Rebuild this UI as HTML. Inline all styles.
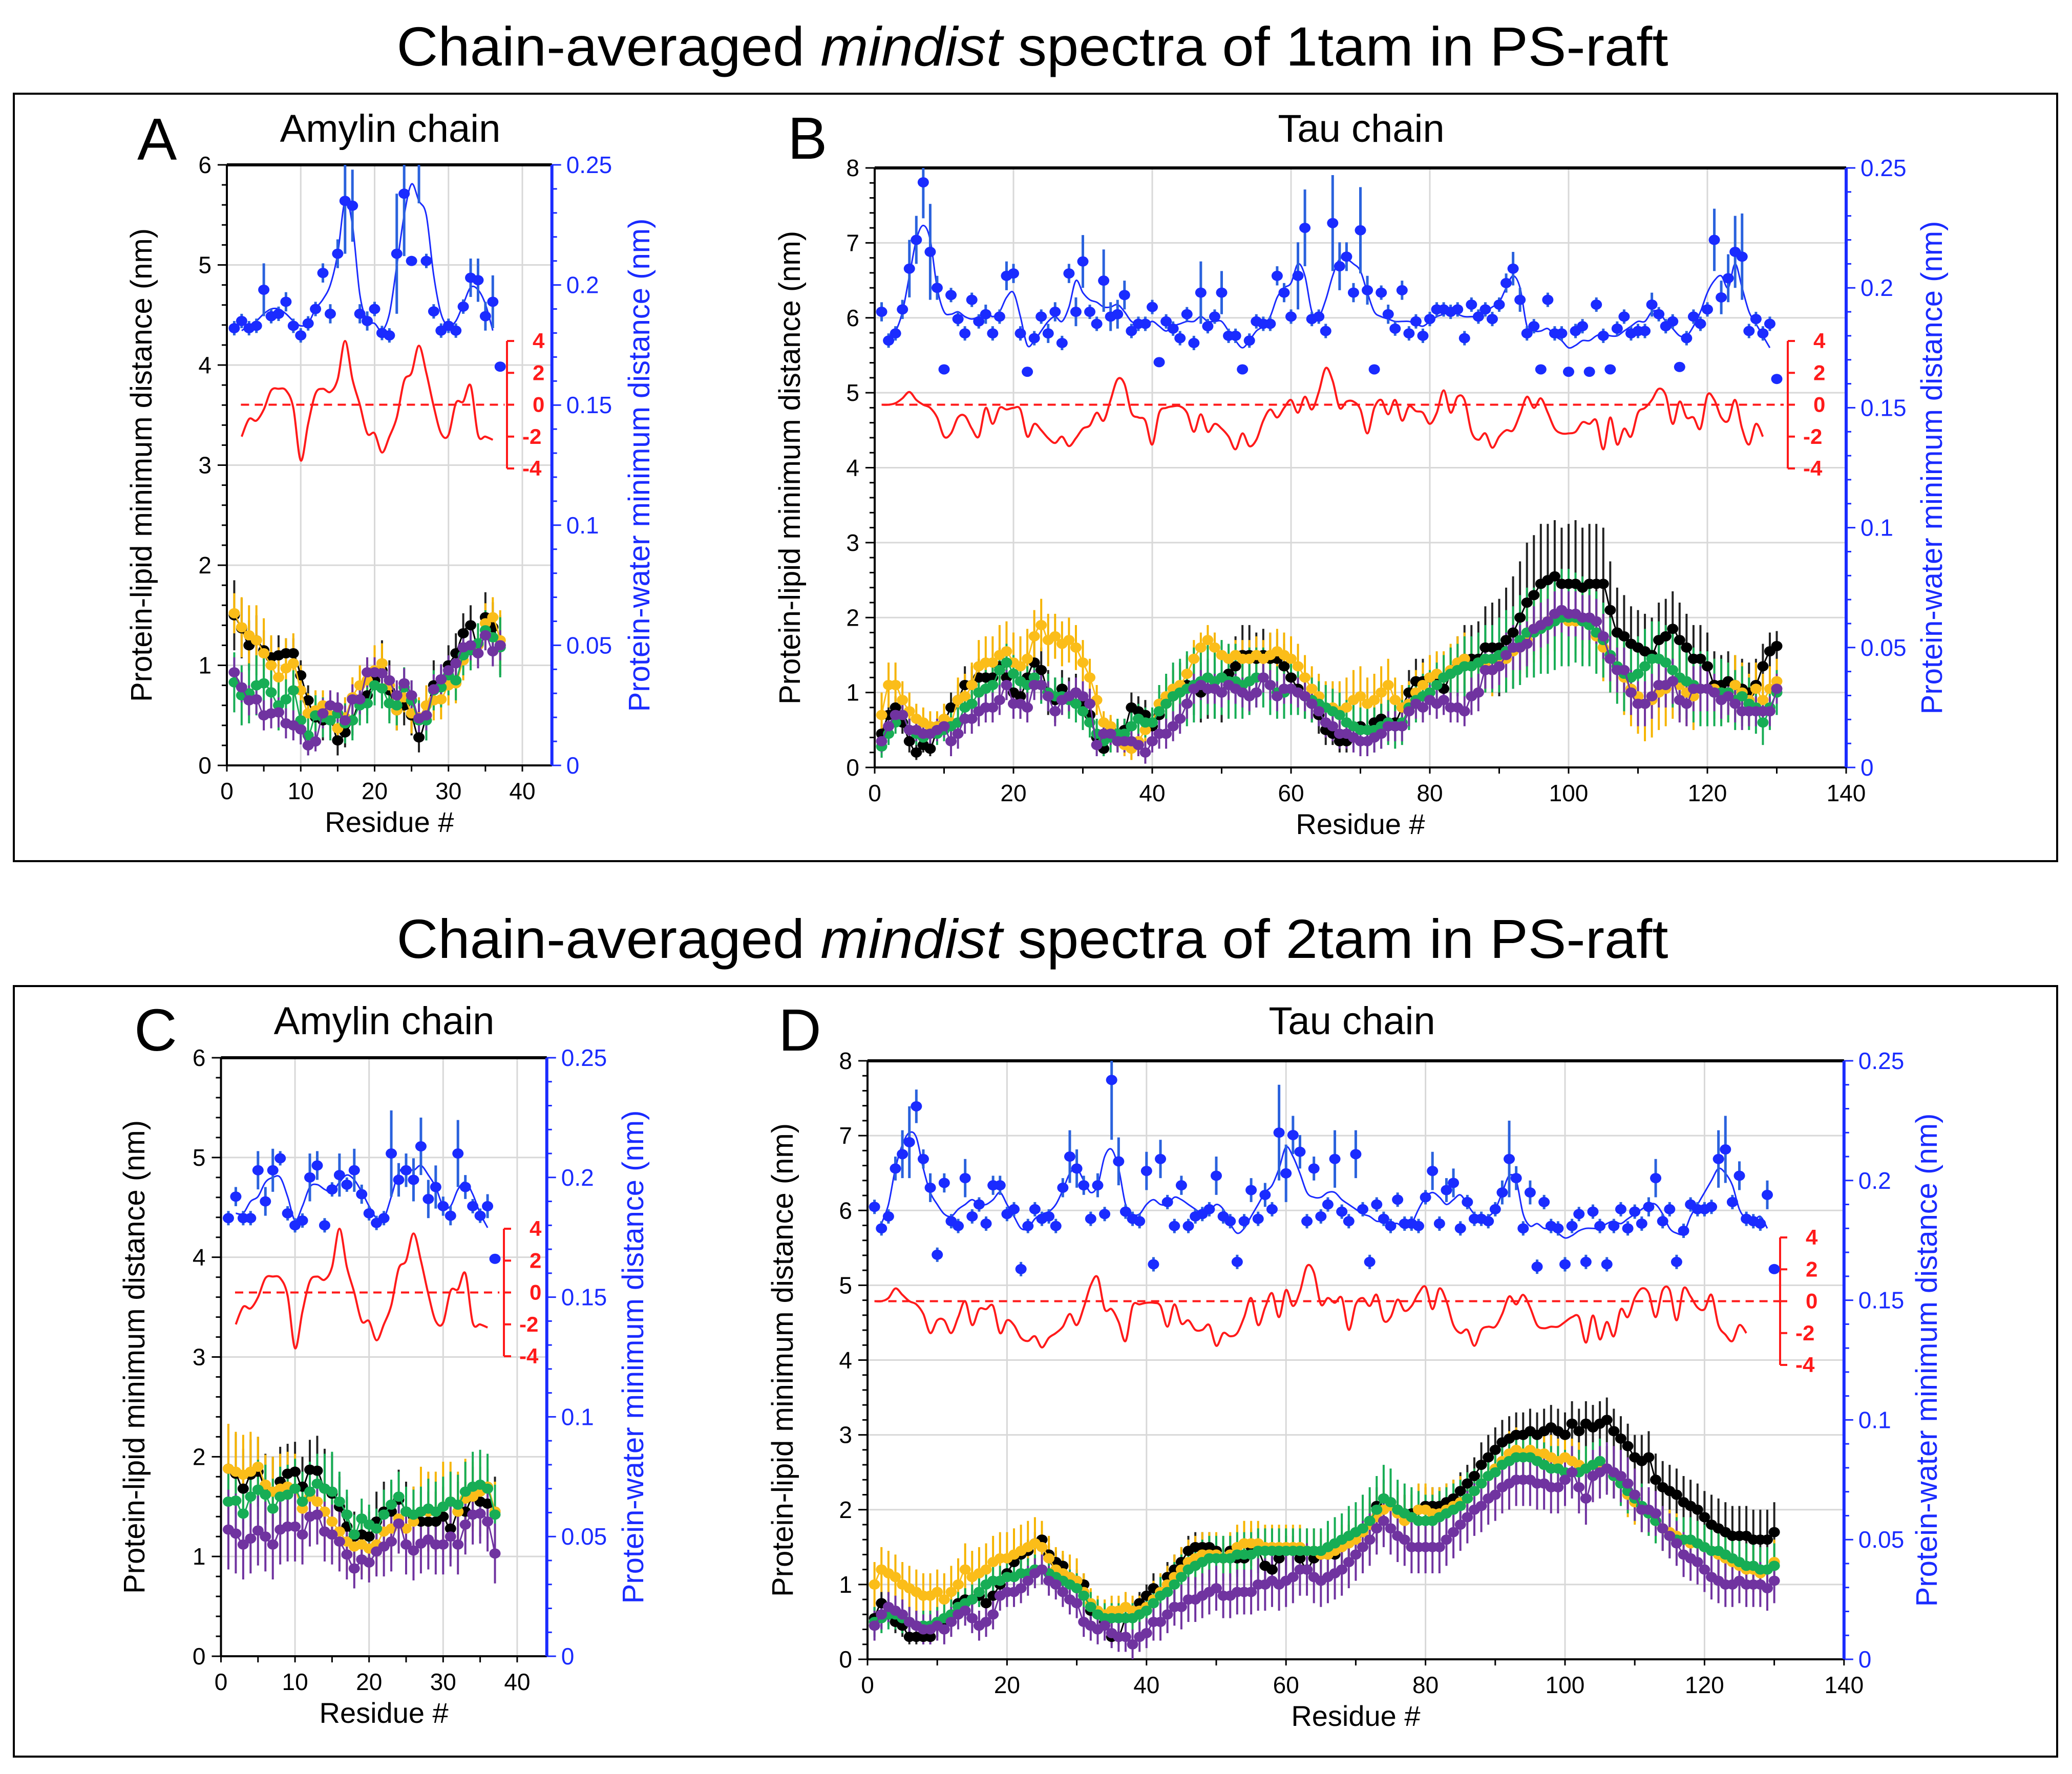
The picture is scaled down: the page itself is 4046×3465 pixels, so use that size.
<!DOCTYPE html>
<html><head><meta charset="utf-8"><style>
html,body{margin:0;padding:0;background:#fff;}
svg{display:block;}
text{font-family:"Liberation Sans",Arial,sans-serif;}
</style></head>
<body>
<svg id="fig" xmlns="http://www.w3.org/2000/svg" width="4046" height="3465" viewBox="0 0 4046 3465">
<rect x="0" y="0" width="4046" height="3465" fill="#fff"/>
<text x="2016" y="128" font-size="108" text-anchor="middle" textLength="2483" lengthAdjust="spacingAndGlyphs">Chain-averaged <tspan font-style="italic">mindist</tspan> spectra of 1tam in PS-raft</text>
<rect x="27" y="183" width="3990" height="1499" fill="none" stroke="#000" stroke-width="4"/>
<text x="2016" y="1871" font-size="108" text-anchor="middle" textLength="2483" lengthAdjust="spacingAndGlyphs">Chain-averaged <tspan font-style="italic">mindist</tspan> spectra of 2tam in PS-raft</text>
<rect x="27" y="1926" width="3990" height="1505" fill="none" stroke="#000" stroke-width="4"/>
<g id="layer"></g>
</svg>
<script>
// ===== Panel A data (1tam, amylin) =====
const A_blue=[.182,.185,.182,.183,.198,.187,.188,.193,.183,.179,.184,.190,.205,.188,.213,.235,.233,.188,.185,.190,.180,.179,.213,.238,.210,.254,.210,.189,.181,.183,.181,.191,.203,.202,.187,.193,.166];
const A_blueErr=[.003,.003,.003,.003,.011,.003,.003,.004,.003,.003,.003,.003,.004,.004,.006,.022,.015,.004,.004,.003,.003,.003,.025,.026,.002,.02,.003,.003,.003,.003,.003,.003,.008,.009,.006,.011,0];
const A_blueLine=[.181,.183,.185,.188,.190,.190,.188,.185,.183,.184,.190,.194,.200,.213,.235,.225,.196,.185,.184,.181,.188,.208,.229,.242,.235,.229,.204,.188,.183,.185,.192,.199,.198,.192,.181];
const A_red=[-2.0,-0.9,-1.0,-0.3,0.9,1.0,0.9,-0.2,-3.5,-1.2,0.7,1.0,0.8,1.6,4.0,1.6,0.0,-1.8,-1.8,-3.0,-2.0,-0.8,1.5,2.0,3.7,2.0,-0.1,-1.8,-1.9,0.1,0.2,1.2,-1.9,-2.0,-2.2];
const A_black=[1.50,1.37,1.20,1.25,1.15,1.08,1.10,1.12,1.12,0.90,0.65,0.48,0.45,0.48,0.25,0.33,0.45,0.65,0.70,0.85,0.95,0.75,0.55,0.60,0.50,0.28,0.50,0.80,0.80,1.00,1.12,1.32,1.40,1.20,1.48,1.38,1.20];
const A_yellow=[1.52,1.38,1.30,1.25,1.12,1.00,0.88,0.97,1.02,0.75,0.52,0.55,0.60,0.50,0.37,0.48,0.68,0.80,0.85,0.95,1.02,0.80,0.55,0.68,0.52,0.48,0.60,0.65,0.66,0.80,0.82,1.05,1.15,1.20,1.42,1.48,1.25];
const A_green=[0.83,0.70,0.72,0.80,0.82,0.73,0.60,0.66,0.75,0.45,0.30,0.50,0.48,0.45,0.52,0.42,0.45,0.60,0.62,0.80,0.77,0.62,0.60,0.78,0.65,0.45,0.45,0.75,0.78,0.90,0.85,1.10,1.15,1.22,1.35,1.28,1.18];
const A_purple=[0.93,0.78,0.65,0.66,0.50,0.52,0.53,0.42,0.40,0.36,0.20,0.24,0.52,0.60,0.58,0.45,0.66,0.66,0.93,0.93,0.92,0.85,0.70,0.82,0.70,0.47,0.50,0.76,0.86,0.95,1.02,1.18,1.20,1.12,1.30,1.14,1.20];
const A_blackErr=[.35,.3,.25,.25,.2,.2,.2,.15,.15,.15,.15,.15,.2,.2,.15,.15,.15,.2,.2,.2,.3,.3,.2,.2,.2,.15,.25,.25,.2,.2,.2,.2,.2,.2,.25,.25,.3];
const A_yellowErr=[.2,.3,.3,.35,.35,.3,.3,.3,.3,.25,.2,.2,.15,.15,.15,.2,.2,.2,.2,.25,.2,.2,.2,.15,.2,.2,.2,.2,.2,.2,.2,.2,.2,.2,.2,.2,.3];
const A_greenErr=[.3,.3,.3,.3,.3,.25,.25,.2,.2,.2,.2,.2,.2,.2,.2,.2,.2,.2,.2,.2,.2,.2,.2,.2,.2,.2,.2,.2,.2,.2,.2,.2,.2,.2,.2,.2,.3];
const A_purpleErr=[.15,.15,.15,.15,.15,.15,.15,.15,.15,.15,.1,.1,.15,.15,.15,.15,.15,.15,.15,.15,.15,.15,.15,.15,.15,.15,.15,.15,.15,.15,.15,.15,.15,.15,.15,.15,.15];

// ===== Panel B data (1tam, tau) =====
const B_blue=[.190,.178,.181,.191,.208,.220,.244,.215,.200,.166,.197,.187,.181,.195,.186,.189,.181,.188,.205,.206,.181,.165,.179,.188,.181,.190,.177,.206,.190,.211,.190,.185,.203,.188,.189,.197,.182,.185,.185,.192,.169,.186,.183,.179,.189,.177,.198,.184,.188,.198,.180,.180,.166,.178,.186,.185,.185,.205,.198,.188,.205,.225,.187,.188,.182,.227,.209,.213,.198,.224,.199,.166,.198,.189,.183,.199,.181,.186,.180,.187,.191,.191,.190,.191,.179,.193,.188,.191,.187,.193,.202,.208,.195,.181,.184,.166,.195,.181,.181,.165,.182,.184,.165,.193,.180,.166,.183,.188,.181,.182,.182,.193,.189,.184,.186,.167,.179,.188,.185,.191,.220,.196,.204,.215,.213,.182,.187,.181,.185,.162];
const B_blueErr=[.004,.003,.003,.004,.012,.010,.015,.020,.005,0,.003,.003,.003,.003,.003,.004,.003,.003,.006,.004,.003,0,.003,.003,.004,.004,.003,.004,.006,.011,.003,.003,.013,.006,.006,.006,.003,.003,.003,.003,0,.003,.003,.003,.003,.003,.013,.003,.003,.009,.003,.003,0,.003,.003,.003,.003,.004,.004,.003,.014,.016,.003,.003,.003,.020,.010,.006,.004,.018,.006,0,.003,.004,.003,.004,.003,.003,.003,.003,.003,.003,.003,.003,.003,.003,.003,.003,.003,.003,.004,.007,.005,.003,.003,0,.003,.003,.003,0,.003,.003,0,.003,.003,0,.003,.003,.003,.003,.003,.005,.003,.003,.003,0,.003,.003,.003,.003,.013,.007,.010,.015,.018,.003,.003,.003,.003,0];
const B_blueLine=[.180,.182,.190,.205,.220,.226,.220,.200,.190,.189,.190,.188,.187,.188,.190,.188,.190,.196,.198,.188,.176,.178,.182,.186,.188,.186,.192,.203,.198,.195,.194,.192,.192,.193,.190,.186,.185,.184,.186,.184,.182,.184,.185,.186,.186,.188,.186,.186,.186,.182,.178,.175,.178,.182,.184,.188,.196,.200,.202,.210,.205,.190,.188,.195,.205,.212,.212,.210,.207,.198,.190,.188,.187,.186,.186,.186,.185,.184,.186,.188,.189,.190,.189,.188,.188,.188,.190,.192,.194,.200,.205,.200,.184,.182,.182,.183,.180,.178,.175,.176,.178,.178,.180,.181,.180,.180,.182,.184,.186,.186,.190,.190,.186,.183,.180,.180,.184,.190,.198,.203,.205,.200,.210,.200,.190,.185,.180,.175];
const B_red=[0,0,0.1,0.4,0.8,0.3,0,-0.2,-0.8,-2.0,-1.8,-0.8,-0.7,-1.5,-2.0,-0.2,-1.2,-0.2,-0.3,-0.2,-0.3,-2.0,-1.2,-1.6,-2.1,-2.4,-2.0,-2.6,-2.1,-1.5,-1.3,-0.5,-1.0,0.3,1.6,1.3,-0.5,-0.8,-1.0,-2.5,-0.5,-0.2,-0.1,-0.1,-0.5,-1.7,-0.6,-1.7,-1.2,-1.5,-2.0,-2.8,-1.8,-2.6,-2.2,-1.0,-0.3,-0.8,-0.2,0.3,-0.5,0.5,-0.3,0.8,2.3,1.5,-0.2,0.2,0.2,-0.3,-1.8,-0.2,0.3,-0.6,0.3,-1.0,-0.1,-0.4,-0.5,-1.2,-0.5,0.9,-0.5,0.5,0.3,-1.7,-2.2,-1.8,-2.7,-2.0,-1.6,-1.6,-0.6,0.5,-0.2,0.4,-0.5,-1.5,-1.8,-1.8,-1.7,-1.1,-1.2,-1.0,-2.8,-0.8,-2.5,-1.5,-2.0,-0.5,-0.2,0.3,1.0,0.6,-1.2,0.2,-0.8,-0.8,-1.5,0.6,0.3,-0.8,-1.0,0.3,-1.5,-2.5,-1.2,-2.0];
const B_black=[0.45,0.7,0.8,0.6,0.35,0.2,0.3,0.25,0.5,0.6,0.8,0.9,1.1,1.1,1.2,1.2,1.2,1.35,1.2,1.0,0.95,1.2,1.4,1.3,1.0,0.9,1.05,0.95,1.0,0.85,0.7,0.4,0.25,0.5,0.45,0.5,0.8,0.75,0.7,0.55,0.7,0.9,0.95,1.05,1.1,1.1,1.0,1.05,1.05,1.0,1.25,1.35,1.5,1.5,1.45,1.5,1.45,1.45,1.35,1.2,1.05,0.95,0.85,0.7,0.5,0.45,0.35,0.35,0.4,0.55,0.5,0.6,0.65,0.6,0.6,0.8,1.0,1.15,1.15,1.2,1.2,1.05,1.25,1.35,1.45,1.45,1.45,1.6,1.6,1.6,1.7,1.8,2.0,2.2,2.3,2.45,2.5,2.55,2.45,2.45,2.45,2.4,2.45,2.45,2.45,2.1,1.8,1.75,1.65,1.6,1.55,1.5,1.7,1.75,1.85,1.7,1.6,1.45,1.45,1.35,1.1,1.1,1.15,1.1,1.05,1.0,1.1,1.35,1.55,1.62];
const B_yellow=[0.7,1.1,1.1,0.9,0.75,0.65,0.6,0.55,0.55,0.65,0.6,0.9,0.95,1.1,1.35,1.4,1.4,1.5,1.55,1.4,1.35,1.45,1.75,1.9,1.7,1.75,1.65,1.7,1.6,1.4,1.2,0.9,0.6,0.55,0.35,0.3,0.25,0.35,0.5,0.6,0.85,0.95,1.05,1.1,1.25,1.45,1.6,1.7,1.6,1.5,1.45,1.5,1.45,1.45,1.5,1.45,1.5,1.55,1.5,1.45,1.35,1.2,1.05,0.95,0.8,0.8,0.75,0.8,0.9,0.95,0.85,0.9,1.0,1.1,0.9,0.8,0.85,1.0,1.1,1.2,1.25,1.2,1.3,1.4,1.45,1.35,1.4,1.35,1.3,1.4,1.45,1.55,1.6,1.7,1.85,1.9,1.95,2.0,2.0,1.95,1.95,1.95,1.9,1.75,1.6,1.45,1.35,1.2,1.05,0.95,0.85,0.9,1.0,1.05,1.15,1.1,1.0,0.95,1.05,1.05,1.05,1.0,1.0,1.1,1.0,0.9,1.05,0.9,1.05,1.15];
const B_green=[0.28,0.45,0.6,0.7,0.5,0.45,0.4,0.45,0.45,0.5,0.55,0.6,0.8,0.85,1.0,1.05,1.1,1.3,1.4,1.25,1.15,1.1,1.2,1.1,1.0,0.95,0.95,0.9,0.85,0.75,0.6,0.45,0.35,0.4,0.45,0.45,0.55,0.65,0.6,0.6,0.75,0.85,0.95,1.0,1.05,1.1,1.15,1.2,1.15,1.2,1.15,1.15,1.1,1.15,1.2,1.2,1.1,1.0,1.0,1.05,1.0,0.95,0.9,0.85,0.8,0.75,0.7,0.6,0.55,0.5,0.5,0.5,0.55,0.6,0.55,0.6,0.8,0.9,0.95,1.0,1.1,1.2,1.25,1.3,1.35,1.35,1.4,1.45,1.45,1.5,1.55,1.6,1.7,1.8,1.8,1.85,1.9,1.95,2.0,2.0,2.0,1.95,1.9,1.8,1.7,1.5,1.35,1.25,1.2,1.25,1.35,1.45,1.45,1.4,1.3,1.2,1.15,1.1,1.05,1.05,1.0,1.0,1.0,0.9,0.95,0.85,0.8,0.6,0.8,1.0];
const B_purple=[0.35,0.55,0.7,0.7,0.5,0.5,0.45,0.45,0.5,0.55,0.35,0.45,0.65,0.65,0.75,0.8,0.8,0.9,1.1,0.85,0.85,0.8,1.1,1.1,0.95,0.75,0.9,0.95,1.0,0.95,0.85,0.3,0.45,0.45,0.35,0.35,0.35,0.3,0.2,0.35,0.45,0.45,0.55,0.65,0.85,1.05,1.1,1.05,1.05,1.0,1.1,1.05,1.0,0.95,1.0,1.2,1.1,0.95,1.05,1.05,1.0,0.95,0.85,0.75,0.6,0.55,0.45,0.45,0.4,0.35,0.35,0.4,0.45,0.55,0.55,0.55,0.75,0.85,0.8,0.9,0.85,0.9,0.8,0.8,0.75,0.95,1.0,1.3,1.3,1.35,1.5,1.6,1.6,1.65,1.85,1.9,1.95,2.05,2.1,2.05,2.05,2.0,2.0,1.95,1.75,1.45,1.3,1.3,1.0,0.85,0.85,0.95,1.1,1.1,1.15,0.9,0.85,1.05,1.05,1.05,1.0,0.9,0.95,0.85,0.75,0.75,0.75,0.75,0.75,1.05];
const B_blackErr=[.15,.15,.15,.15,.15,.1,.1,.1,.15,.15,.2,.2,.25,.25,.25,.25,.25,.25,.3,.3,.3,.3,.3,.3,.3,.3,.25,.25,.25,.2,.2,.15,.1,.15,.15,.15,.2,.2,.2,.2,.25,.3,.35,.35,.4,.4,.4,.4,.4,.4,.4,.4,.4,.4,.35,.35,.35,.35,.3,.3,.3,.3,.25,.25,.2,.15,.15,.15,.15,.2,.2,.2,.2,.25,.25,.3,.3,.3,.3,.3,.3,.3,.35,.4,.45,.45,.5,.55,.6,.65,.7,.75,.75,.8,.8,.8,.75,.75,.75,.8,.85,.8,.8,.8,.75,.65,.6,.55,.5,.5,.5,.5,.5,.5,.5,.5,.45,.45,.45,.45,.45,.4,.4,.4,.4,.4,.35,.3,.25,.2];
const B_yellowErr=[.3,.3,.3,.25,.25,.2,.2,.2,.2,.2,.25,.3,.3,.3,.35,.35,.35,.4,.4,.4,.4,.4,.35,.35,.35,.3,.3,.3,.3,.3,.25,.2,.15,.15,.15,.15,.15,.2,.2,.2,.25,.25,.25,.25,.25,.25,.2,.2,.2,.2,.2,.2,.25,.25,.25,.25,.3,.3,.3,.3,.3,.3,.3,.3,.35,.35,.4,.4,.4,.4,.35,.35,.35,.35,.3,.3,.3,.3,.3,.3,.3,.35,.35,.35,.35,.35,.35,.35,.35,.35,.4,.4,.45,.45,.45,.45,.45,.45,.45,.45,.45,.45,.45,.45,.45,.45,.45,.5,.5,.5,.5,.5,.5,.5,.5,.45,.45,.45,.45,.45,.4,.4,.4,.4,.4,.35,.35,.35,.3,.3];
const B_greenErr=[.15,.15,.15,.15,.15,.15,.15,.15,.15,.15,.2,.2,.2,.25,.25,.25,.25,.25,.25,.25,.25,.25,.25,.25,.25,.25,.25,.25,.25,.25,.2,.2,.2,.2,.2,.2,.2,.2,.2,.2,.35,.4,.45,.45,.5,.5,.5,.5,.5,.5,.5,.5,.45,.45,.4,.4,.4,.35,.35,.35,.3,.3,.3,.3,.3,.3,.3,.3,.3,.3,.3,.3,.3,.3,.3,.3,.3,.3,.3,.3,.3,.3,.35,.35,.4,.4,.4,.45,.45,.5,.55,.55,.6,.6,.6,.6,.65,.65,.65,.65,.6,.6,.55,.55,.5,.5,.5,.5,.5,.5,.5,.5,.5,.5,.5,.5,.5,.5,.5,.5,.45,.45,.4,.4,.4,.35,.35,.3,.3,.3];
const B_purpleErr=[.15,.15,.15,.15,.15,.15,.15,.15,.15,.15,.2,.2,.2,.2,.2,.2,.2,.2,.2,.2,.2,.2,.2,.2,.2,.2,.2,.2,.2,.2,.2,.15,.15,.15,.15,.15,.15,.15,.15,.15,.2,.2,.2,.2,.2,.2,.2,.2,.2,.2,.2,.2,.2,.2,.2,.2,.2,.2,.2,.2,.2,.2,.2,.2,.2,.2,.2,.2,.2,.2,.2,.2,.2,.2,.2,.2,.2,.2,.2,.2,.2,.2,.2,.2,.2,.25,.25,.25,.25,.25,.3,.3,.3,.3,.3,.3,.3,.3,.3,.3,.3,.3,.3,.3,.3,.3,.3,.3,.3,.3,.3,.3,.3,.3,.3,.3,.3,.3,.3,.3,.25,.25,.25,.25,.25,.2,.2,.2,.2,.2];

// ===== Panel C data (2tam, amylin) =====
const C_blue=[.183,.192,.183,.183,.203,.190,.203,.208,.185,.180,.182,.200,.205,.180,.195,.201,.197,.203,.193,.185,.181,.183,.210,.199,.203,.199,.213,.191,.196,.188,.184,.210,.196,.188,.184,.188,.166];
const C_blueErr=[.003,.004,.003,.003,.008,.006,.009,.003,.003,.003,.003,.010,.006,.003,.003,.009,.003,.009,.004,.003,.003,.003,.018,.007,.007,.009,.012,.008,.009,.004,.004,.014,.005,.003,.003,.005,0];
const C_blueLine=[.185,.185,.190,.192,.198,.200,.200,.192,.182,.188,.196,.197,.195,.194,.198,.201,.199,.194,.188,.183,.183,.192,.202,.204,.203,.205,.201,.196,.188,.188,.195,.198,.193,.185,.179];
const C_red=[-2.0,-0.9,-1.0,-0.3,0.9,1.0,0.9,-0.2,-3.5,-1.2,0.7,1.0,0.8,1.6,4.0,1.6,0.0,-1.8,-1.8,-3.0,-2.0,-0.8,1.5,2.0,3.7,2.0,-0.1,-1.8,-1.9,0.1,0.2,1.2,-1.9,-2.0,-2.2];
const C_black=[1.88,1.83,1.68,1.82,1.85,1.68,1.65,1.75,1.83,1.85,1.70,1.87,1.86,1.68,1.63,1.50,1.30,1.20,1.22,1.20,1.35,1.45,1.45,1.57,1.45,1.40,1.35,1.35,1.35,1.40,1.28,1.45,1.45,1.60,1.55,1.53,1.45];
const C_yellow=[1.88,1.85,1.82,1.85,1.90,1.72,1.65,1.68,1.70,1.68,1.48,1.60,1.55,1.45,1.35,1.25,1.15,1.10,1.12,1.08,1.12,1.25,1.28,1.38,1.28,1.35,1.45,1.45,1.45,1.50,1.55,1.45,1.58,1.60,1.65,1.70,1.45];
const C_green=[1.55,1.56,1.43,1.60,1.67,1.62,1.48,1.60,1.62,1.68,1.55,1.65,1.73,1.68,1.65,1.55,1.42,1.22,1.38,1.32,1.28,1.42,1.52,1.60,1.45,1.42,1.45,1.48,1.45,1.50,1.55,1.52,1.65,1.70,1.72,1.68,1.42];
const C_purple=[1.27,1.23,1.12,1.18,1.26,1.20,1.12,1.27,1.30,1.30,1.22,1.40,1.42,1.25,1.22,1.15,1.02,0.88,0.97,0.94,1.05,1.10,1.15,1.33,1.12,1.06,1.13,1.17,1.12,1.12,1.20,1.12,1.32,1.42,1.43,1.35,1.03];
const C_blackErr=[.45,.4,.4,.35,.35,.35,.35,.35,.3,.3,.3,.3,.35,.4,.4,.3,.3,.25,.25,.25,.3,.3,.3,.3,.3,.3,.3,.3,.3,.3,.3,.3,.3,.3,.35,.35,.35];
const C_yellowErr=[.45,.4,.4,.4,.3,.3,.35,.35,.35,.35,.35,.35,.35,.35,.3,.3,.3,.3,.3,.3,.3,.3,.35,.35,.35,.35,.45,.4,.4,.45,.4,.4,.4,.35,.35,.3,.3];
const C_greenErr=[.3,.3,.3,.3,.3,.3,.3,.3,.3,.3,.3,.3,.3,.35,.4,.3,.25,.2,.2,.2,.2,.25,.25,.25,.25,.25,.25,.3,.3,.3,.3,.3,.3,.35,.35,.35,.3];
const C_purpleErr=[.4,.4,.35,.35,.35,.35,.35,.35,.35,.35,.3,.3,.3,.3,.3,.3,.25,.2,.2,.2,.25,.3,.3,.3,.3,.3,.3,.3,.3,.3,.3,.3,.3,.3,.3,.3,.3];

// ===== Panel D data (2tam, tau) =====
const D_blue=[.189,.180,.185,.205,.211,.216,.231,.209,.197,.169,.199,.183,.181,.201,.185,.190,.182,.198,.198,.186,.188,.163,.181,.188,.184,.185,.181,.197,.210,.205,.198,.184,.198,.186,.242,.208,.187,.184,.183,.204,.165,.209,.191,.181,.198,.181,.185,.186,.188,.202,.185,.183,.166,.183,.196,.184,.194,.188,.220,.203,.219,.212,.183,.205,.185,.190,.209,.187,.183,.211,.188,.166,.190,.184,.181,.192,.182,.182,.181,.193,.204,.182,.196,.199,.180,.191,.184,.184,.183,.188,.195,.209,.201,.180,.195,.164,.191,.181,.180,.165,.181,.186,.166,.187,.181,.165,.181,.188,.180,.187,.182,.189,.201,.183,.188,.166,.179,.190,.188,.188,.189,.209,.213,.191,.202,.184,.183,.182,.194,.163];
const D_blueErr=[.003,.003,.003,.005,.010,.015,.007,.004,.006,.003,.004,.003,.003,.008,.003,.003,.003,.004,.004,.003,.003,.003,.003,.003,.003,.003,.003,.004,.011,.008,.004,.003,.005,.003,.025,.010,.003,.003,.003,.008,.003,.008,.003,.003,.004,.003,.003,.003,.003,.008,.003,.003,.003,.003,.005,.003,.005,.003,.020,.012,.008,.007,.003,.005,.003,.003,.012,.003,.003,.010,.003,.003,.003,.003,.003,.003,.003,.003,.003,.003,.008,.003,.005,.006,.003,.003,.003,.003,.003,.003,.005,.016,.005,.003,.005,.003,.003,.003,.003,.003,.003,.003,.003,.003,.003,.003,.003,.003,.003,.003,.003,.004,.008,.003,.003,.003,.003,.003,.003,.003,.003,.012,.014,.003,.006,.003,.003,.003,.006,0];
const D_blueLine=[.182,.190,.205,.215,.220,.218,.205,.195,.190,.186,.185,.188,.190,.192,.190,.190,.192,.195,.190,.185,.180,.180,.184,.186,.187,.190,.196,.203,.205,.200,.195,.198,.210,.213,.205,.190,.186,.186,.190,.192,.190,.190,.193,.192,.190,.188,.186,.187,.190,.188,.182,.178,.180,.185,.190,.195,.198,.205,.214,.210,.203,.195,.193,.193,.195,.195,.192,.190,.188,.186,.185,.183,.183,.182,.182,.180,.182,.188,.193,.195,.193,.190,.192,.194,.190,.186,.185,.185,.188,.195,.202,.200,.186,.181,.182,.180,.180,.178,.176,.177,.179,.180,.180,.180,.182,.183,.182,.184,.186,.188,.190,.190,.186,.180,.178,.178,.185,.190,.195,.200,.205,.203,.198,.188,.184,.183,.185,.180];
const D_red=[0,0,0.2,0.8,0.4,0,-0.2,-0.8,-2.0,-1.2,-1.2,-2.0,-1.0,0,-1.5,-0.5,-0.5,-0.3,-2.0,-1.2,-1.5,-2.3,-2.5,-2.2,-2.9,-2.3,-2.0,-1.6,-0.8,-1.5,-0.4,1.0,1.5,-0.5,-0.5,-1.3,-2.5,-0.3,-0.2,-0.1,-0.1,-0.3,-1.6,-0.2,-1.4,-1.2,-1.8,-1.8,-1.5,-2.8,-2.0,-2.2,-2.0,-1.0,0.2,-1.5,-0.4,0.5,-1.0,0.7,-0.3,0.6,2.2,1.8,-0.2,0.2,-0.1,0.2,-1.8,-0.2,0.2,-0.3,0.4,-1.2,-1.0,0.1,-0.6,-0.3,0.5,0.9,-0.5,0.8,0,-1.5,-2.0,-1.8,-2.8,-1.8,-1.6,-1.6,-0.8,0.3,-0.2,0.4,-0.4,-1.5,-1.7,-1.6,-1.6,-1.3,-1.0,-1.0,-2.6,-0.9,-2.4,-1.3,-2.2,-0.5,-1.0,0.2,0.8,0.5,-1.0,0.7,0.7,-1.2,0.8,0.3,-0.4,-0.5,0.4,-1.5,-2.1,-2.5,-1.5,-2.0];
const D_black=[0.55,0.75,0.6,0.5,0.45,0.3,0.3,0.3,0.3,0.45,0.5,0.6,0.75,0.8,0.8,0.85,0.75,0.85,1.0,1.15,1.3,1.4,1.45,1.55,1.6,1.4,1.3,1.25,1.1,1.05,1.0,0.65,0.6,0.5,0.3,0.3,0.55,0.65,0.75,0.85,0.95,0.9,1.1,1.2,1.3,1.45,1.5,1.5,1.5,1.45,1.35,1.45,1.35,1.35,1.5,1.45,1.25,1.2,1.35,1.45,1.45,1.35,1.2,1.35,1.4,1.4,1.4,1.5,1.6,1.65,1.7,1.85,2.05,2.15,2.1,2.0,1.95,1.95,2.0,2.05,2.05,2.05,2.1,2.15,2.25,2.35,2.45,2.6,2.7,2.8,2.9,2.95,3.0,3.0,3.05,3.0,3.05,3.1,3.05,3.0,3.15,3.05,3.15,3.1,3.15,3.2,3.05,2.95,2.85,2.7,2.65,2.7,2.4,2.3,2.25,2.2,2.1,2.05,2.0,1.9,1.8,1.75,1.7,1.65,1.65,1.65,1.6,1.6,1.6,1.7];
const D_yellow=[1.0,1.2,1.15,1.1,1.0,0.95,0.9,0.85,0.85,0.9,0.8,0.9,1.0,1.2,1.1,1.15,1.2,1.3,1.35,1.35,1.4,1.45,1.5,1.55,1.5,1.35,1.2,1.15,1.1,1.05,0.9,0.75,0.65,0.6,0.65,0.65,0.7,0.65,0.65,0.7,0.8,0.9,1.0,1.1,1.2,1.3,1.35,1.4,1.4,1.4,1.35,1.4,1.5,1.55,1.55,1.55,1.5,1.5,1.5,1.5,1.5,1.5,1.45,1.45,1.4,1.4,1.45,1.5,1.55,1.6,1.7,1.8,1.9,2.0,2.05,1.95,1.85,1.9,2.0,2.0,1.95,1.95,2.0,2.05,2.1,2.15,2.25,2.35,2.45,2.55,2.65,2.75,2.8,2.75,2.8,2.75,2.75,2.7,2.65,2.7,2.65,2.6,2.55,2.6,2.6,2.55,2.45,2.35,2.2,2.1,2.0,1.95,1.85,1.75,1.7,1.65,1.6,1.55,1.55,1.5,1.45,1.4,1.35,1.3,1.25,1.2,1.2,1.15,1.2,1.3];
const D_green=[0.5,0.55,0.6,0.6,0.55,0.5,0.45,0.45,0.45,0.5,0.55,0.6,0.7,0.75,0.8,0.9,1.0,1.05,1.05,1.1,1.1,1.15,1.15,1.2,1.2,1.15,1.1,1.05,1.0,0.95,0.85,0.7,0.6,0.55,0.55,0.55,0.55,0.55,0.6,0.65,0.75,0.85,0.9,1.0,1.1,1.2,1.25,1.3,1.35,1.35,1.35,1.35,1.4,1.4,1.4,1.45,1.45,1.45,1.45,1.45,1.45,1.45,1.45,1.45,1.45,1.5,1.55,1.6,1.65,1.7,1.75,1.85,2.0,2.15,2.1,2.0,1.95,1.9,1.85,1.85,1.85,1.9,1.95,2.0,2.05,2.15,2.25,2.35,2.45,2.5,2.6,2.65,2.7,2.7,2.7,2.65,2.6,2.55,2.55,2.5,2.5,2.5,2.55,2.6,2.65,2.55,2.45,2.35,2.25,2.15,2.05,1.95,1.85,1.75,1.65,1.6,1.6,1.6,1.55,1.5,1.45,1.45,1.4,1.35,1.3,1.25,1.25,1.2,1.2,1.25];
const D_purple=[0.45,0.6,0.7,0.65,0.6,0.5,0.45,0.4,0.4,0.45,0.4,0.5,0.6,0.65,0.55,0.45,0.5,0.6,0.85,0.9,0.9,0.95,1.05,1.15,1.2,1.05,1.0,0.9,0.8,0.75,0.5,0.45,0.4,0.45,0.35,0.3,0.3,0.2,0.3,0.35,0.5,0.5,0.6,0.7,0.7,0.8,0.8,0.85,0.9,0.95,0.85,0.85,0.9,0.9,0.9,1.0,1.0,1.05,1.0,1.05,1.1,1.2,1.2,1.1,1.05,1.1,1.15,1.2,1.3,1.4,1.5,1.6,1.75,1.85,1.75,1.65,1.6,1.5,1.5,1.5,1.5,1.5,1.6,1.7,1.8,1.9,2.0,2.05,2.15,2.2,2.3,2.35,2.4,2.4,2.4,2.35,2.35,2.3,2.3,2.4,2.5,2.3,2.15,2.45,2.5,2.55,2.5,2.45,2.35,2.2,2.0,2.0,1.95,1.75,1.65,1.55,1.4,1.35,1.3,1.2,1.1,1.05,1.0,1.0,1.05,1.0,1.0,1.0,0.95,1.05];
const D_blackErr=[.15,.15,.15,.15,.15,.1,.1,.1,.1,.15,.15,.15,.15,.15,.15,.15,.15,.15,.15,.15,.15,.15,.15,.15,.15,.15,.15,.15,.15,.15,.15,.15,.15,.15,.1,.1,.15,.15,.15,.15,.2,.2,.2,.2,.2,.2,.2,.2,.2,.2,.2,.2,.2,.25,.25,.25,.25,.25,.25,.2,.2,.2,.2,.2,.2,.2,.2,.2,.2,.2,.25,.25,.25,.25,.25,.25,.25,.25,.25,.25,.25,.25,.25,.25,.25,.25,.25,.3,.3,.3,.3,.3,.3,.3,.3,.3,.3,.3,.3,.3,.3,.3,.3,.3,.3,.3,.3,.3,.3,.3,.35,.35,.35,.35,.35,.35,.35,.35,.35,.35,.4,.4,.4,.4,.4,.4,.4,.4,.4,.4];
const D_yellowErr=[.3,.3,.3,.3,.3,.3,.3,.3,.3,.3,.35,.35,.35,.35,.35,.35,.35,.35,.35,.35,.35,.35,.35,.35,.35,.3,.3,.3,.3,.3,.25,.2,.2,.2,.2,.2,.2,.2,.2,.2,.25,.25,.25,.3,.3,.3,.3,.3,.3,.3,.3,.3,.3,.3,.3,.3,.3,.3,.3,.3,.3,.3,.3,.3,.3,.3,.3,.3,.3,.35,.35,.35,.35,.35,.35,.35,.35,.35,.35,.35,.35,.35,.35,.35,.35,.35,.3,.3,.3,.3,.3,.3,.3,.3,.3,.3,.3,.3,.3,.3,.3,.3,.3,.3,.3,.3,.3,.3,.3,.3,.3,.3,.3,.3,.3,.3,.3,.3,.3,.3,.3,.3,.3,.3,.3,.3,.3,.3,.3,.3];
const D_greenErr=[.2,.2,.2,.2,.2,.2,.2,.2,.2,.2,.2,.2,.2,.2,.2,.2,.2,.2,.2,.2,.2,.2,.2,.2,.2,.2,.2,.2,.2,.2,.2,.2,.2,.2,.2,.2,.2,.2,.2,.2,.25,.25,.25,.3,.3,.3,.3,.3,.3,.3,.3,.3,.3,.3,.3,.3,.3,.3,.3,.3,.3,.3,.3,.3,.3,.35,.35,.35,.4,.4,.45,.45,.45,.45,.45,.4,.4,.4,.4,.35,.35,.35,.35,.35,.35,.35,.3,.3,.3,.3,.3,.3,.3,.3,.3,.3,.3,.3,.3,.3,.3,.3,.3,.3,.3,.3,.3,.3,.3,.3,.3,.3,.3,.3,.3,.3,.3,.3,.3,.3,.3,.3,.3,.3,.3,.3,.3,.3,.3,.3];
const D_purpleErr=[.2,.2,.2,.2,.2,.2,.2,.2,.2,.2,.2,.2,.2,.2,.2,.2,.2,.2,.2,.2,.2,.2,.2,.2,.2,.2,.2,.2,.2,.2,.2,.2,.2,.2,.2,.2,.2,.2,.2,.2,.25,.25,.25,.25,.3,.3,.3,.3,.3,.3,.3,.3,.3,.3,.3,.35,.35,.35,.35,.35,.35,.35,.35,.35,.35,.35,.35,.35,.35,.35,.35,.35,.35,.35,.35,.35,.35,.35,.35,.35,.35,.35,.35,.35,.35,.35,.35,.35,.35,.35,.35,.35,.35,.35,.35,.35,.35,.35,.35,.35,.35,.35,.35,.35,.35,.35,.35,.35,.35,.35,.3,.3,.3,.3,.3,.3,.3,.3,.3,.3,.3,.3,.3,.3,.3,.3,.3,.3,.3,.3];

const xTicksAmylin=[0,10,20,30,40];
const xTicksTau=[0,20,40,60,80,100,120,140];
const yTicksRight=[0,0.05,0.1,0.15,0.2,0.25];
const redTicks=[4,2,0,-2,-4];

const NS='http://www.w3.org/2000/svg';
const layer=document.getElementById('layer');
function mk(tag,attrs,parent){const e=document.createElementNS(NS,tag);for(const k in attrs)e.setAttribute(k,attrs[k]);(parent||layer).appendChild(e);return e;}
function smooth(pts){
  if(pts.length<2)return '';
  let d='M'+pts[0][0].toFixed(1)+','+pts[0][1].toFixed(1);
  for(let i=0;i<pts.length-1;i++){
    const p0=pts[Math.max(0,i-1)],p1=pts[i],p2=pts[i+1],p3=pts[Math.min(pts.length-1,i+2)];
    const c1x=p1[0]+(p2[0]-p0[0])/6,c1y=p1[1]+(p2[1]-p0[1])/6;
    const c2x=p2[0]-(p3[0]-p1[0])/6,c2y=p2[1]-(p3[1]-p1[1])/6;
    d+=' C'+c1x.toFixed(1)+','+c1y.toFixed(1)+' '+c2x.toFixed(1)+','+c2y.toFixed(1)+' '+p2[0].toFixed(1)+','+p2[1].toFixed(1);
  }
  return d;
}

function panel(cfg){
  const g=mk('g',{});
  
  
  const xS=r=>cfg.x0+r*cfg.xu;
  const xR=cfg.x0+cfg.xmax*cfg.xu;
  const yL=v=>cfg.yb-v*(cfg.yb-cfg.yt)/cfg.lmax;
  const yR=v=>cfg.yb-v*(cfg.yb-cfg.yt)/0.25;
  const ru=(cfg.rm4-cfg.r4)/8, rz=(cfg.rm4+cfg.r4)/2;
  const yRed=v=>rz-v*ru;
  const let_=mk('text',{x:cfg.lx,y:cfg.ly,'font-size':116,fill:'#000'},g);let_.textContent=cfg.letter;
  
  
  const st=mk('text',{x:cfg.sx,y:cfg.sy,'font-size':76,'text-anchor':'middle',fill:'#000'},g);st.textContent=cfg.subtitle;
  
  
  const grid=mk('g',{stroke:'#d8d8d8','stroke-width':3},g);
  
  
  for(const t of cfg.xt){if(t>0&&t<cfg.xmax)mk('line',{x1:xS(t),x2:xS(t),y1:cfg.yt,y2:cfg.yb},grid);}
  for(let v=1;v<cfg.lmax;v++)mk('line',{x1:cfg.x0,x2:xR,y1:yL(v),y2:yL(v)},grid);
  const ax=mk('g',{},g);
  
  
  mk('line',{x1:cfg.x0,x2:xR,y1:cfg.yt,y2:cfg.yt,stroke:'#000','stroke-width':6},ax);
  mk('line',{x1:cfg.x0,x2:xR,y1:cfg.yb,y2:cfg.yb,stroke:'#000','stroke-width':4},ax);
  mk('line',{x1:cfg.x0,x2:cfg.x0,y1:cfg.yt,y2:cfg.yb,stroke:'#000','stroke-width':4},ax);
  mk('line',{x1:xR,x2:xR,y1:cfg.yt,y2:cfg.yb,stroke:'#1a2bff','stroke-width':6},ax);
  for(let i=0;i<=cfg.lmax*5;i++){const v=i/5;const maj=i%5===0;
    mk('line',{x1:cfg.x0-(maj?18:10),x2:cfg.x0,y1:yL(v),y2:yL(v),stroke:'#000','stroke-width':3},ax);
    if(maj){const t=mk('text',{x:cfg.x0-30,y:yL(v)+16,'font-size':46,'text-anchor':'end'},ax);t.textContent=String(v);
      
      }
  }
  for(let i=0;i<=25;i++){const v=i/100;const maj=i%5===0;
    mk('line',{x1:xR,x2:xR+(maj?18:10),y1:yR(v),y2:yR(v),stroke:'#1a2bff','stroke-width':3},ax);}
  yTicksRight.forEach(v=>{const t=mk('text',{x:xR+28,y:yR(v)+16,'font-size':46,fill:'#1a2bff'},ax);t.textContent=String(v);
    
    });
  const minorStep=(cfg.xt[1]-cfg.xt[0])/2;
  for(let r=0;r<=cfg.xmax+0.001;r+=minorStep){mk('line',{x1:xS(r),x2:xS(r),y1:cfg.yb,y2:cfg.yb+12,stroke:'#000','stroke-width':3},ax);}
  cfg.xt.forEach(v=>{const t=mk('text',{x:xS(v),y:cfg.yb+66,'font-size':46,'text-anchor':'middle'},ax);t.textContent=String(v);
    
    });
  const xt=mk('text',{x:(cfg.x0+xR)/2,y:cfg.yb+130,'font-size':56,'text-anchor':'middle'},ax);xt.textContent='Residue #';
  
  
  const ymid=(cfg.yt+cfg.yb)/2;
  const yt=mk('text',{x:cfg.ltx,y:ymid,'font-size':58,'text-anchor':'middle',transform:`rotate(-90 ${cfg.ltx} ${ymid})`},ax);yt.textContent='Protein-lipid minimum distance (nm)';
  
  
  const y2=mk('text',{x:cfg.rtx,y:ymid,'font-size':58,'text-anchor':'middle',fill:'#1a2bff',transform:`rotate(-90 ${cfg.rtx} ${ymid})`},ax);y2.textContent='Protein-water minimum distance (nm)';
  
  
  const rg=mk('g',{},g);
  
  
  mk('line',{x1:cfg.rax,x2:cfg.rax,y1:yRed(4),y2:yRed(-4),stroke:'#ff1a1a','stroke-width':4},rg);
  redTicks.forEach(v=>{mk('line',{x1:cfg.rax,x2:cfg.rax+14,y1:yRed(v),y2:yRed(v),stroke:'#ff1a1a','stroke-width':4},rg);
    const t=mk('text',{x:cfg.rax+(v<0?30:50),y:yRed(v)+14,'font-size':42,'font-weight':'bold',fill:'#ff1a1a'},rg);t.textContent=String(v);
    
    });
  const cid='clip'+cfg.id;
  const cp=mk('clipPath',{id:cid},g);mk('rect',{x:cfg.x0,y:cfg.yt,width:xR-cfg.x0,height:cfg.yb-cfg.yt},cp);
  const pg=mk('g',{'clip-path':`url(#${cid})`},g);
  const dz=mk('line',{x1:xS(cfg.dz0),x2:xS(cfg.dz1),y1:yRed(0),y2:yRed(0),stroke:'#ff1a1a','stroke-width':4,'stroke-dasharray':'16 11'},pg);
  
  
  const rp=mk('path',{d:smooth(cfg.red.map((v,i)=>[xS(i+cfg.redStart),yRed(v)])),fill:'none',stroke:'#ff1a1a','stroke-width':4},pg);
  
  
  const bl=mk('path',{d:smooth(cfg.blueLine.map((v,i)=>[xS(i+2),yR(v)])),fill:'none',stroke:'#1a2bff','stroke-width':3},pg);
  
  
  cfg.blue.forEach((v,i)=>{const x=xS(i+1),e=cfg.blueErr[i];
    if(e>0){const eb=mk('line',{x1:x,x2:x,y1:yR(v+e),y2:yR(v-e),stroke:'#2a62dd','stroke-width':5},pg);
      
      }
    const c=mk('ellipse',{cx:x,cy:yR(v),rx:11,ry:10,fill:'#1a2bff'},pg);
    
    
  });
  const series=[['black','#000000',cfg.black,cfg.blackErr,'#222'],['yellow','#fbbd19',cfg.yellow,cfg.yellowErr,'#f6b400'],['green','#17ad55',cfg.green,cfg.greenErr,'#17ad55'],['purple','#7033a0',cfg.purple,cfg.purpleErr,'#7033a0']];
  series.forEach(([nm,col,vals,errs,ecol])=>{
    vals.forEach((v,i)=>{const x=xS(i+1);
      const eb=mk('line',{x1:x,x2:x,y1:yL(v+errs[i]),y2:yL(Math.max(0,v-errs[i])),stroke:ecol,'stroke-width':4},pg);
      
      });
  });
  series.forEach(([nm,col,vals])=>{
    const p=mk('path',{d:smooth(vals.map((v,i)=>[xS(i+1),yL(v)])),fill:'none',stroke:col,'stroke-width':3},pg);
    
    
    vals.forEach((v,i)=>{const c=mk('ellipse',{cx:xS(i+1),cy:yL(v),rx:11,ry:10,fill:col},pg);
      
      });
  });
}

panel({id:'a',letter:'A',subtitle:'Amylin chain',lx:268,ly:312,sx:762,sy:277,x0:443,xu:14.425,xmax:44,yb:1495,yt:322,lmax:6,xt:xTicksAmylin,r4:666,rm4:915,rax:990,ltx:296,rtx:1268,dz0:1.9,dz1:37.6,redStart:2,
  blue:A_blue,blueErr:A_blueErr,blueLine:A_blueLine,red:A_red,black:A_black,yellow:A_yellow,green:A_green,purple:A_purple,blackErr:A_blackErr,yellowErr:A_yellowErr,greenErr:A_greenErr,purpleErr:A_purpleErr});
panel({id:'b',letter:'B',subtitle:'Tau chain',lx:1538,ly:310,sx:2658,sy:277,x0:1708,xu:13.55,xmax:140,yb:1499,yt:328,lmax:8,xt:xTicksTau,r4:666,rm4:915,rax:3491,ltx:1562,rtx:3792,dz0:1,dz1:131,redStart:1,
  blue:B_blue,blueErr:B_blueErr,blueLine:B_blueLine,red:B_red,black:B_black,yellow:B_yellow,green:B_green,purple:B_purple,blackErr:B_blackErr,yellowErr:B_yellowErr,greenErr:B_greenErr,purpleErr:B_purpleErr});
panel({id:'c',letter:'C',subtitle:'Amylin chain',lx:262,ly:2052,sx:750,sy:2020,x0:431.5,xu:14.46,xmax:44,yb:3235,yt:2066,lmax:6,xt:xTicksAmylin,r4:2400,rm4:2649,rax:984,ltx:282,rtx:1256,dz0:1.9,dz1:37.6,redStart:2,
  blue:C_blue,blueErr:C_blueErr,blueLine:C_blueLine,red:C_red,black:C_black,yellow:C_yellow,green:C_green,purple:C_purple,blackErr:C_blackErr,yellowErr:C_yellowErr,greenErr:C_greenErr,purpleErr:C_purpleErr});
panel({id:'d',letter:'D',subtitle:'Tau chain',lx:1520,ly:2052,sx:2640,sy:2020,x0:1694,xu:13.62,xmax:140,yb:3241,yt:2072,lmax:8,xt:xTicksTau,r4:2417,rm4:2666,rax:3476,ltx:1548,rtx:3782,dz0:1,dz1:131,redStart:1,
  blue:D_blue,blueErr:D_blueErr,blueLine:D_blueLine,red:D_red,black:D_black,yellow:D_yellow,green:D_green,purple:D_purple,blackErr:D_blackErr,yellowErr:D_yellowErr,greenErr:D_greenErr,purpleErr:D_purpleErr});
</script>
</body></html>
